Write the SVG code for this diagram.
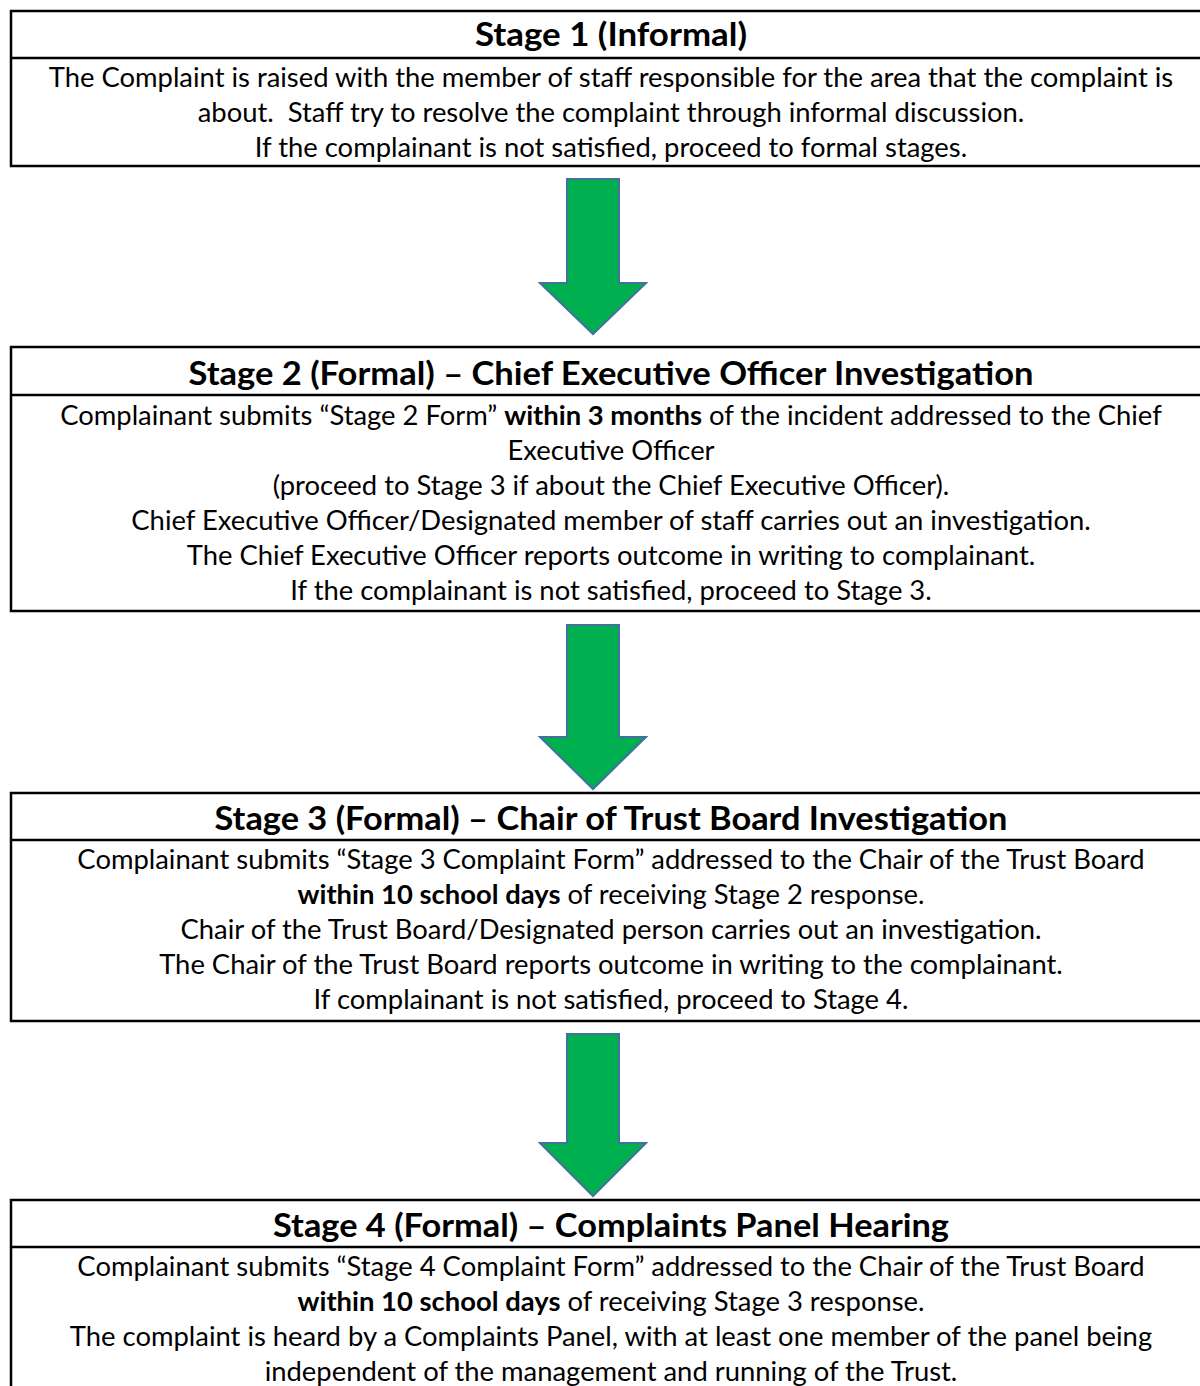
<svg xmlns="http://www.w3.org/2000/svg" width="1200" height="1386" viewBox="0 0 1200 1386">
<style>
.box{fill:#ffffff;stroke:#000000;stroke-width:2.5}
.div{stroke:#000000;stroke-width:2.5}
.h{font-family:Lato,"Open Sans","Liberation Sans",sans-serif;font-weight:bold;font-size:31.5px;fill:#000;text-anchor:middle}
.t{font-family:Lato,"Open Sans","Liberation Sans",sans-serif;font-size:27.4px;fill:#000;text-anchor:middle}
.b{font-weight:bold}
.arrow{fill:#00B050;stroke:#41719C;stroke-width:2}
</style>
<rect width="1200" height="1386" fill="#ffffff"/>
<g id="connectors">
<polygon class="arrow" points="567,179 619,179 619,283 646,283 593,334 540,283 567,283"/>
<polygon class="arrow" points="567,625 619,625 619,737 646,737 593,789 540,737 567,737"/>
<polygon class="arrow" points="567,1034 619,1034 619,1143 646,1143 593,1196 540,1143 567,1143"/>
</g>
<g id="stage1">
<rect class="box" x="11" y="11" width="1200" height="155"/>
<line class="div" x1="11" y1="58" x2="1211" y2="58"/>
<text class="h" x="611" y="46" textLength="272" lengthAdjust="spacingAndGlyphs">Stage 1 (Informal)</text>
<text class="t" x="611" y="87">The Complaint is raised with the member of staff responsible for the area that the complaint is</text>
<text class="t" x="611" y="122" xml:space="preserve">about.  Staff try to resolve the complaint through informal discussion.</text>
<text class="t" x="611" y="157">If the complainant is not satisfied, proceed to formal stages.</text>
</g>
<g id="stage2">
<rect class="box" x="11" y="347" width="1200" height="264"/>
<line class="div" x1="11" y1="395" x2="1211" y2="395"/>
<text class="h" x="611" y="385" textLength="845" lengthAdjust="spacingAndGlyphs">Stage 2 (Formal) – Chief Executive Officer Investigation</text>
<text class="t" x="611" y="425">Complainant submits “Stage 2 Form” <tspan class="b">within 3 months</tspan> of the incident addressed to the Chief</text>
<text class="t" x="611" y="460">Executive Officer</text>
<text class="t" x="611" y="495">(proceed to Stage 3 if about the Chief Executive Officer).</text>
<text class="t" x="611" y="530">Chief Executive Officer/Designated member of staff carries out an investigation.</text>
<text class="t" x="611" y="565">The Chief Executive Officer reports outcome in writing to complainant.</text>
<text class="t" x="611" y="600">If the complainant is not satisfied, proceed to Stage 3.</text>
</g>
<g id="stage3">
<rect class="box" x="11" y="793" width="1200" height="228"/>
<line class="div" x1="11" y1="840" x2="1211" y2="840"/>
<text class="h" x="611" y="830" textLength="793" lengthAdjust="spacingAndGlyphs">Stage 3 (Formal) – Chair of Trust Board Investigation</text>
<text class="t" x="611" y="869">Complainant submits “Stage 3 Complaint Form” addressed to the Chair of the Trust Board</text>
<text class="t" x="611" y="904"><tspan class="b">within 10 school days</tspan> of receiving Stage 2 response.</text>
<text class="t" x="611" y="939">Chair of the Trust Board/Designated person carries out an investigation.</text>
<text class="t" x="611" y="974">The Chair of the Trust Board reports outcome in writing to the complainant.</text>
<text class="t" x="611" y="1009">If complainant is not satisfied, proceed to Stage 4.</text>
</g>
<g id="stage4">
<rect class="box" x="11" y="1200" width="1200" height="300"/>
<line class="div" x1="11" y1="1247" x2="1211" y2="1247"/>
<text class="h" x="611" y="1237" textLength="676" lengthAdjust="spacingAndGlyphs">Stage 4 (Formal) – Complaints Panel Hearing</text>
<text class="t" x="611" y="1276">Complainant submits “Stage 4 Complaint Form” addressed to the Chair of the Trust Board</text>
<text class="t" x="611" y="1311"><tspan class="b">within 10 school days</tspan> of receiving Stage 3 response.</text>
<text class="t" x="611" y="1346">The complaint is heard by a Complaints Panel, with at least one member of the panel being</text>
<text class="t" x="611" y="1381">independent of the management and running of the Trust.</text>
</g>
</svg>
